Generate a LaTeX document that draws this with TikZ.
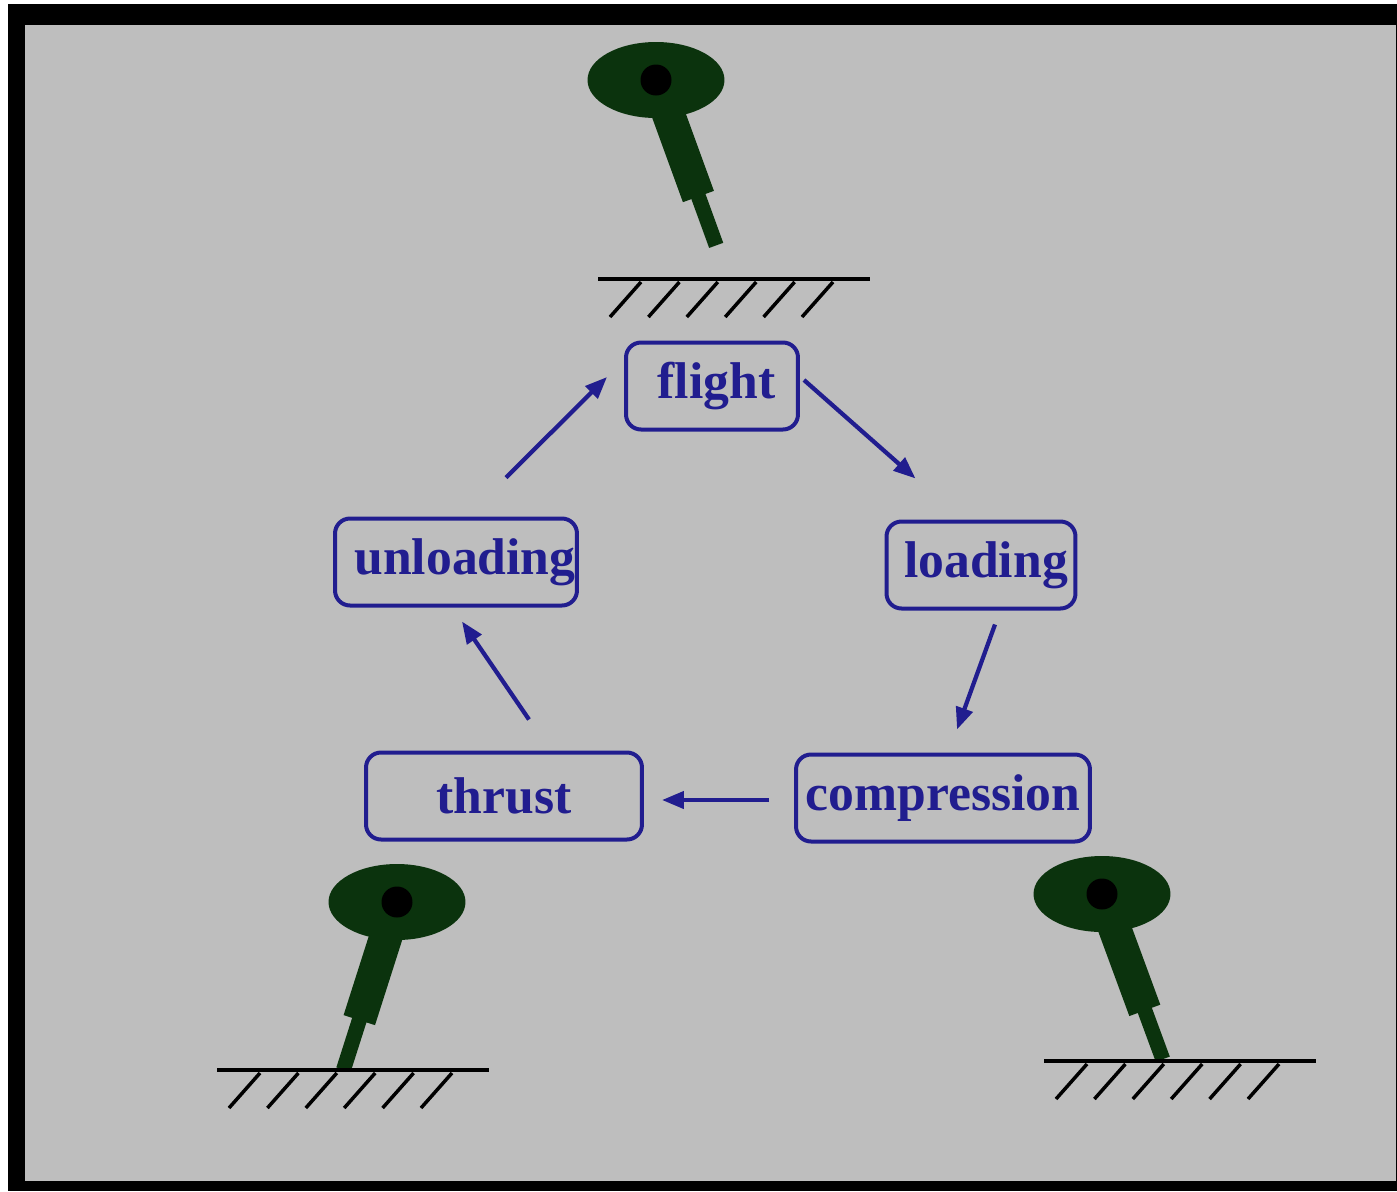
\documentclass[tikz,border=0pt]{standalone}
\usepackage{fontspec}
\setmainfont{Liberation Serif}
\usetikzlibrary{arrows.meta}
\definecolor{statecol}{RGB}{33,29,143}
\definecolor{bodycol}{RGB}{11,51,13}
\definecolor{panel}{RGB}{190,190,190}
\tikzset{
  state/.style={draw=statecol, text=statecol, line width=0.08cm, rounded corners=0.3cm,
    minimum height=1.74cm, inner sep=0pt, font=\fontsize{29.4}{35}\selectfont\bfseries},
  nudge/.style={execute at begin node=\hspace*{#1}, execute at end node=\hspace*{-#1}},
  flow/.style={draw=statecol, line width=0.085cm, -{Triangle[length=0.44cm,width=0.34cm]}},
  ground/.style={line width=0.08cm},
  hatch/.style={line width=0.07cm},
}
\begin{document}
\begin{tikzpicture}[x=0.02cm,y=-0.02cm]
  \useasboundingbox (0,0) rectangle (1397,1191);
  \fill (8,4) rectangle (1397,1191);
  \fill[panel] (25,25) rectangle (1396,1181);

  % hoppers: eye position and leg direction
  \foreach \x/\y/\a in {656/80/70, 397/902/107.7, 1102/894/69.8} {
    \draw[bodycol, line width=0.66cm] (\x,\y) -- ++(\a:124);
    \draw[bodycol, line width=0.3cm] (\x,\y) ++(\a:100) -- ++(\a:76);
    \fill[bodycol] (\x,\y) ellipse [x radius=1.37cm, y radius=0.76cm];
    \fill (\x,\y) circle [radius=0.31cm];
  }

  % ground
  \foreach \gx/\gy in {598/279, 217/1070, 1044/1061} {
    \draw[ground] (\gx,\gy) -- ++(272,0);
    \foreach \i in {0,...,5}
      \draw[hatch] ({\gx+12+38.4*\i},{\gy+38}) -- ++(31,-35);
  }

  \node[state, minimum width=3.44cm, nudge=0.09cm] (flight) at (712,386) {flight};
  \node[state, minimum width=3.78cm, nudge=0.1cm] (loading) at (981,565) {loading};
  \node[state, minimum width=5.88cm] (compression) at (943,798) {compression};
  \node[state, minimum width=5.52cm] (thrust) at (504,796) {thrust};
  \node[state, minimum width=4.84cm, nudge=0.18cm] (unloading) at (456,562) {unloading};

  \draw[flow] ([shift={(4,-6)}]flight.east) -- ([shift={(31,-41)}]loading.north west);
  \draw[flow] ([shift={(14,14)}]loading.south) -- ([shift={(14,-23)}]compression.north);
  \draw[flow] ([shift={(-25,2)}]compression.west) -- ([shift={(18,4)}]thrust.east);
  \draw[flow] ([shift={(25,-31)}]thrust.north) -- ([shift={(6,14)}]unloading.south);
  \draw[flow] ([shift={(50,-39)}]unloading.north) -- ([shift={(-17,-9)}]flight.west);
\end{tikzpicture}
\end{document}
